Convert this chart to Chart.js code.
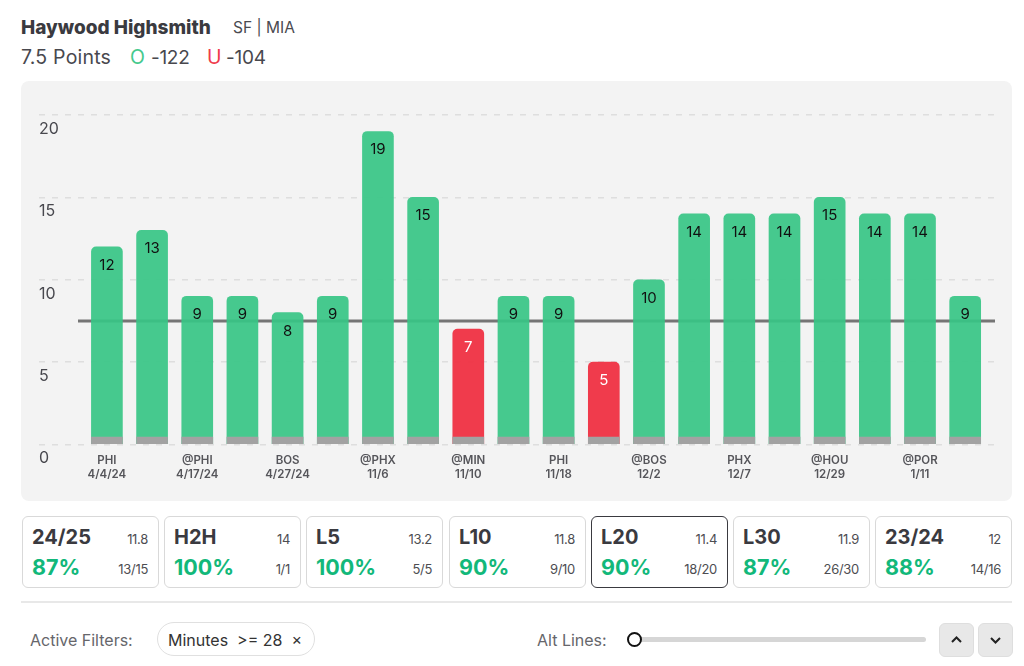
<!DOCTYPE html>
<html>
<head>
<meta charset="utf-8">
<title>Haywood Highsmith</title>
<script src="https://cdn.jsdelivr.net/npm/chart.js@4"></script>
<style>
  html, body { margin: 0; padding: 0; background: #fff; }
  body { width: 1024px; height: 666px; position: relative; overflow: hidden; font-family: Inter, sans-serif; color: #3a3a40; }
  .abs { position: absolute; white-space: nowrap; line-height: 1; }
  #panel { position: absolute; left: 21px; top: 81px; width: 991px; height: 420px; background: #f3f3f3; border-radius: 8px; }
  #chart { display: block; }
  .card { position: absolute; top: 516px; width: 135px; height: 70px; background: #fff; border: 1.5px solid #d9d9d9; border-radius: 6px; }
  .card.active { border-color: #3a3a40; }
  .card .abs { transform: translateY(-50%); }
  .card .title { left: 9px; top: 20px; font-size: 20px; font-weight: 700; }
  .card .pct { left: 9px; top: 51px; font-size: 21.5px; font-weight: 700; color: #12b87a; }
  .card .avg { right: 10px; top: 22px; font-size: 13px; color: #4d4d52; letter-spacing: -0.3px; }
  .card .rec { right: 10px; top: 52px; font-size: 13px; color: #4d4d52; letter-spacing: -0.3px; }
  #pill { position: absolute; left: 157px; top: 622px; width: 156px; height: 32px; border: 1.5px solid #e0e0e0; border-radius: 17px; }
  #track { position: absolute; left: 635px; top: 637px; width: 291px; height: 5px; background: #d6d6d6; border-radius: 3px; }
  #knob { position: absolute; left: 627px; top: 632px; width: 11px; height: 11px; background: #fff; border: 2px solid #111; border-radius: 50%; }
  .btn { position: absolute; top: 623px; width: 33px; height: 32px; background: #e8e8e8; border: 1px solid #dedede; border-radius: 6px; }
  .btn svg { position: absolute; left: 10px; top: 10px; }
</style>
</head>
<body>
<div class="abs" style="left:21px;top:18px;font-size:19px;font-weight:800">Haywood Highsmith</div>
<div class="abs" style="left:233px;top:20px;font-size:15.5px;color:#4a4a50">SF | MIA</div>
<div class="abs" style="left:21px;top:48px;font-size:19.5px;letter-spacing:0.2px;color:#48484e">7.5 Points</div>
<div class="abs" style="left:130px;top:48px;font-size:19.5px;color:#45c98d">O</div>
<div class="abs" style="left:151px;top:48px;font-size:19px;letter-spacing:-0.3px;color:#48484e">-122</div>
<div class="abs" style="left:207px;top:48px;font-size:19.5px;color:#ef3a4a">U</div>
<div class="abs" style="left:226px;top:48px;font-size:19px;letter-spacing:-0.2px;color:#48484e">-104</div>

<div id="panel"><canvas id="chart" width="991" height="420"></canvas></div>
<div id="cards"></div>

<div style="position:absolute;left:21px;top:601px;width:991px;height:2px;background:#e8e8e8"></div>
<div class="abs" style="left:30px;top:632px;font-size:16px;color:#66666b">Active Filters:</div>
<div id="pill"></div>
<div class="abs" style="left:168px;top:632px;font-size:16px;color:#333">Minutes&nbsp; &gt;= 28&nbsp; ×</div>
<div class="abs" style="left:537px;top:632px;font-size:16px;color:#66666b">Alt Lines:</div>
<div id="track"></div>
<div id="knob"></div>
<div class="btn" style="left:939px"><svg width="13" height="12" viewBox="0 0 13 12"><path d="M2 8 L6.5 3.5 L11 8" fill="none" stroke="#222" stroke-width="2"/></svg></div>
<div class="btn" style="left:978px"><svg width="13" height="12" viewBox="0 0 13 12"><path d="M2 4 L6.5 8.5 L11 4" fill="none" stroke="#222" stroke-width="2"/></svg></div>

<script>
// Points in the last 20 games
const gameValues = [12, 13, 9, 9, 8, 9, 19, 15, 7, 9, 9, 5, 10, 14, 14, 14, 15, 14, 14, 9];
const stripValues = [0.45, 0.45, 0.45, 0.45, 0.45, 0.45, 0.45, 0.45, 0.45, 0.45, 0.45, 0.45, 0.45, 0.45, 0.45, 0.45, 0.45, 0.45, 0.45, 0.45];
const lineValue = 7.5;

// Only every other game gets an axis label
const tickGames = [0, 2, 4, 6, 8, 10, 12, 14, 16, 18];
const tickOpponents = ["PHI", "@PHI", "BOS", "@PHX", "@MIN", "PHI", "@BOS", "PHX", "@HOU", "@POR"];
const tickDates = ["4/4/24", "4/17/24", "4/27/24", "11/6", "11/10", "11/18", "12/2", "12/7", "12/29", "1/11"];

// Cards under the chart
const cardTitles = ["24/25", "H2H", "L5", "L10", "L20", "L30", "23/24"];
const cardAverages = ["11.8", "14", "13.2", "11.8", "11.4", "11.9", "12"];
const cardPercents = ["87%", "100%", "100%", "90%", "90%", "87%", "88%"];
const cardRecords = ["13/15", "1/1", "5/5", "9/10", "18/20", "26/30", "14/16"];
const cardLefts = [22, 164, 306, 449, 591, 733, 875];

const cards = document.getElementById("cards");
cardTitles.forEach((title, i) => {
    const card = document.createElement("div");
    card.className = title === "L20" ? "card active" : "card";
    card.style.left = cardLefts[i] + "px";
    card.innerHTML =
        `<div class="abs title">${title}</div><div class="abs avg">${cardAverages[i]}</div>` +
        `<div class="abs pct">${cardPercents[i]}</div><div class="abs rec">${cardRecords[i]}</div>`;
    cards.appendChild(card);
});

const xMin = -0.64;
const xMax = 19.66;

// Value labels inside the top of each bar
const barLabels = {
    id: "barLabels",
    afterDatasetsDraw(chart) {
        const { ctx, scales } = chart;
        ctx.save();
        ctx.font = "15px Inter, sans-serif";
        ctx.textAlign = "center";
        ctx.textBaseline = "middle";
        gameValues.forEach((v, i) => {
            ctx.fillStyle = v < lineValue ? "#fff" : "#111";
            ctx.fillText(v, scales.x.getPixelForValue(i), scales.y.getPixelForValue(v) + 18.5);
        });
        ctx.restore();
    }
};

new Chart(document.getElementById("chart"), {
    data: {
        datasets: [
            {
                type: "bar",
                order: 2,
                data: gameValues.map((v, i) => ({ x: i, y: v })),
                backgroundColor: gameValues.map(v => v < lineValue ? "rgba(239,48,66,0.95)" : "rgba(55,198,133,0.92)"),
                borderRadius: { topLeft: 5, topRight: 5 },
                borderSkipped: false,
                barThickness: 31,
                grouped: false
            },
            {
                type: "bar",
                order: 1,
                data: stripValues.map((v, i) => ({ x: i, y: v })),
                backgroundColor: "#a2a2a2",
                barThickness: 31,
                grouped: false
            },
            {
                type: "line",
                order: 3,
                data: [{ x: xMin, y: lineValue }, { x: xMax, y: lineValue }],
                borderColor: "#757575",
                borderWidth: 3,
                pointRadius: 0
            }
        ]
    },
    options: {
        responsive: false,
        animation: false,
        layout: { padding: { left: 18, right: 17, top: 34, bottom: 0 } },
        plugins: { legend: { display: false }, tooltip: { enabled: false } },
        scales: {
            x: {
                type: "linear",
                offset: false,
                min: xMin,
                max: xMax,
                grid: { display: false },
                border: { display: false },
                afterBuildTicks: scale => { scale.ticks = tickGames.map(v => ({ value: v })); },
                afterFit: scale => { scale.height = 56.5; },
                ticks: {
                    autoSkip: false,
                    maxRotation: 0,
                    padding: 1,
                    color: "#55555a",
                    font: { family: "Inter, sans-serif", size: 11.5, weight: "600", lineHeight: 1.2 },
                    callback: value => {
                        const k = tickGames.indexOf(value);
                        return [tickOpponents[k], tickDates[k]];
                    }
                }
            },
            y: {
                min: 0,
                max: 20,
                afterFit: scale => { scale.width = 39; },
                border: { display: false, dash: [6, 7] },
                grid: { color: "#dedede", lineWidth: 1.5, tickLength: 39, tickColor: "#dedede", tickBorderDash: [6, 7], tickWidth: 1.5 },
                ticks: {
                    stepSize: 5,
                    crossAlign: "far",
                    labelOffset: 14,
                    color: "#48484e",
                    font: { family: "Inter, sans-serif", size: 16 }
                }
            }
        }
    },
    plugins: [barLabels]
});
</script>
</body>
</html>
